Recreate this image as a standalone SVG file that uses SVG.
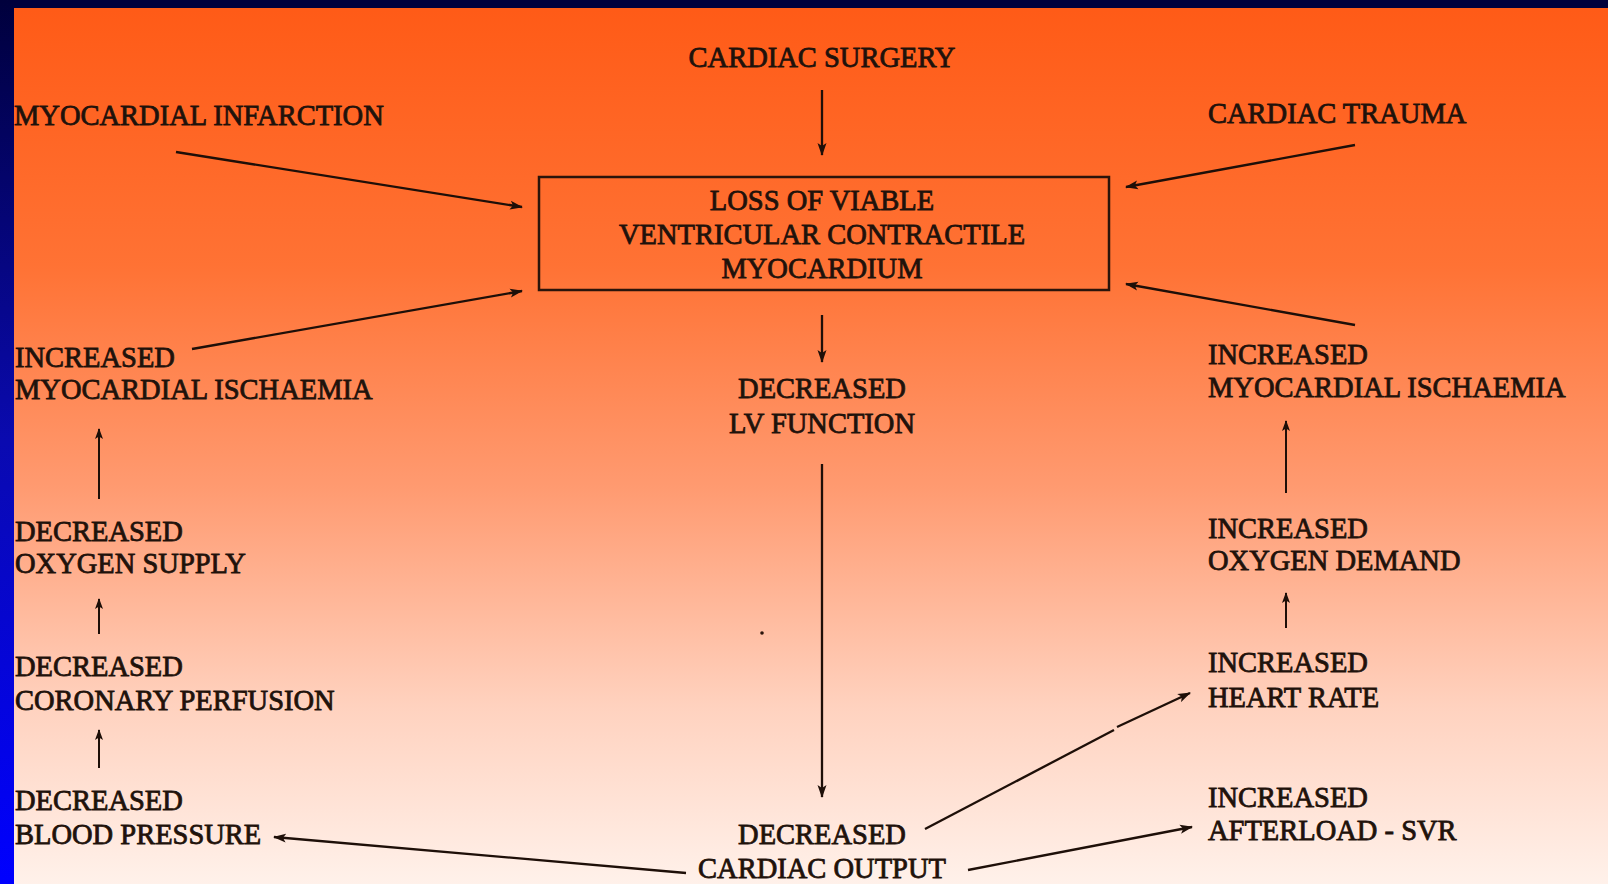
<svg xmlns="http://www.w3.org/2000/svg" width="1608" height="884" viewBox="0 0 1608 884">
<defs>
<linearGradient id="bg" x1="0" y1="0" x2="0" y2="1">
<stop offset="0" stop-color="#ff5a16"/>
<stop offset="0.3" stop-color="#ff7234"/>
<stop offset="0.55" stop-color="#ff9a70"/>
<stop offset="0.8" stop-color="#ffd2bf"/>
<stop offset="1" stop-color="#fff1ea"/>
</linearGradient>
<linearGradient id="side" x1="0" y1="0" x2="0" y2="1">
<stop offset="0" stop-color="#00003c"/>
<stop offset="0.5" stop-color="#0a0ab0"/>
<stop offset="1" stop-color="#0000ff"/>
</linearGradient>
<marker id="ah" markerUnits="userSpaceOnUse" markerWidth="13" markerHeight="10" refX="12" refY="5" orient="auto">
<path d="M0,0.5 L13,5 L0,9.5 L3,5 z" fill="#1e0f08"/>
</marker>
<marker id="ahs" markerUnits="userSpaceOnUse" markerWidth="11" markerHeight="9" refX="10" refY="4.5" orient="auto">
<path d="M0,0.5 L11,4.5 L0,8.5 L2.5,4.5 z" fill="#1e0f08"/>
</marker>
<style>
text { font-family: "Liberation Serif", "Times New Roman", serif; font-size: 28.5px; fill: #1f120b; stroke: #1f120b; stroke-width: 0.8px; }
.c { text-anchor: middle; }
.ln { stroke: #1e0f08; stroke-width: 2.3; fill: none; marker-end: url(#ah); }
.sh { stroke: #1e0f08; stroke-width: 2; fill: none; marker-end: url(#ahs); }
.plain { stroke: #1e0f08; stroke-width: 2.3; fill: none; }
.box { fill: none; stroke: #2a140b; stroke-width: 2.5; }
</style>
</defs>
<rect x="0" y="0" width="1608" height="884" fill="url(#bg)"/>
<rect x="0" y="0" width="1608" height="8" fill="#00003c"/>
<rect x="0" y="0" width="14" height="884" fill="url(#side)"/>
<circle cx="762" cy="633" r="1.8" fill="#2a140b"/>

<g id="connectors">
<line class="ln" x1="822" y1="90" x2="822" y2="155"/>
<line class="ln" x1="176" y1="152" x2="522" y2="207"/>
<line class="ln" x1="1355" y1="145" x2="1126" y2="187"/>
<line class="ln" x1="192" y1="349" x2="522" y2="291"/>
<line class="ln" x1="1355" y1="325" x2="1126" y2="284"/>
<line class="ln" x1="822" y1="315" x2="822" y2="362"/>
<line class="ln" x1="822" y1="464" x2="822" y2="797"/>
<line class="ln" x1="686" y1="873" x2="274" y2="837"/>
<line class="plain" x1="925" y1="829" x2="1114" y2="730"/>
<line class="ln" x1="1117" y1="727" x2="1190" y2="693"/>
<line class="ln" x1="968" y1="870" x2="1192" y2="827"/>
<line class="sh" x1="99" y1="499" x2="99" y2="429"/>
<line class="sh" x1="99" y1="634" x2="99" y2="599"/>
<line class="sh" x1="99" y1="768" x2="99" y2="730"/>
<line class="sh" x1="1286" y1="493" x2="1286" y2="421"/>
<line class="sh" x1="1286" y1="628" x2="1286" y2="593"/>
</g>

<g id="n-surgery"><text class="c" x="822" y="67">CARDIAC SURGERY</text></g>
<g id="n-infarction"><text x="14" y="125">MYOCARDIAL INFARCTION</text></g>
<g id="n-trauma"><text x="1208" y="123">CARDIAC TRAUMA</text></g>
<g id="n-loss">
<rect class="box" x="539" y="177" width="570" height="113"/>
<text class="c" x="822" y="210">LOSS OF VIABLE</text>
<text class="c" x="822" y="244">VENTRICULAR CONTRACTILE</text>
<text class="c" x="822" y="278">MYOCARDIUM</text>
</g>
<g id="n-lvfunc">
<text class="c" x="822" y="398">DECREASED</text>
<text class="c" x="822" y="433">LV FUNCTION</text>
</g>
<g id="n-co">
<text class="c" x="822" y="844">DECREASED</text>
<text class="c" x="822" y="878">CARDIAC OUTPUT</text>
</g>
<g id="n-left-ischaemia">
<text x="15" y="367">INCREASED</text>
<text x="15" y="399">MYOCARDIAL ISCHAEMIA</text>
</g>
<g id="n-o2-supply">
<text x="15" y="541">DECREASED</text>
<text x="15" y="573">OXYGEN SUPPLY</text>
</g>
<g id="n-coronary">
<text x="15" y="676">DECREASED</text>
<text x="15" y="710">CORONARY PERFUSION</text>
</g>
<g id="n-bp">
<text x="15" y="810">DECREASED</text>
<text x="15" y="844">BLOOD PRESSURE</text>
</g>
<g id="n-right-ischaemia">
<text x="1208" y="364">INCREASED</text>
<text x="1208" y="397">MYOCARDIAL ISCHAEMIA</text>
</g>
<g id="n-o2-demand">
<text x="1208" y="538">INCREASED</text>
<text x="1208" y="570">OXYGEN DEMAND</text>
</g>
<g id="n-hr">
<text x="1208" y="672">INCREASED</text>
<text x="1208" y="707">HEART RATE</text>
</g>
<g id="n-afterload">
<text x="1208" y="807">INCREASED</text>
<text x="1208" y="840">AFTERLOAD - SVR</text>
</g>
</svg>
